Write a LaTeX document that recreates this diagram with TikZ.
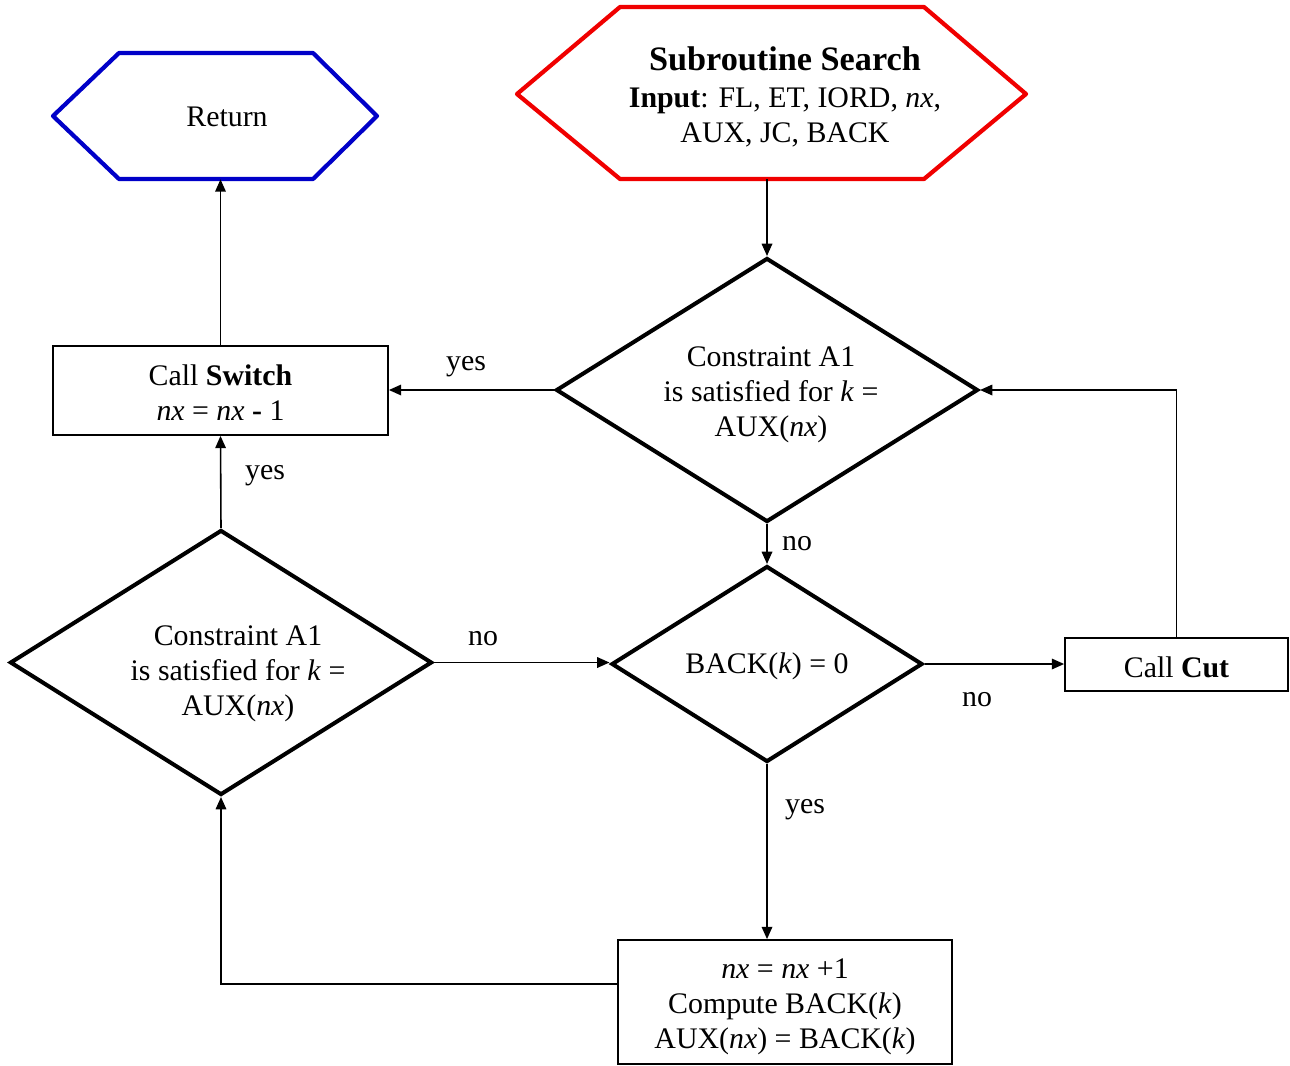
\documentclass[tikz,border=0pt]{standalone}
\usepackage{fontspec}
\setmainfont{Liberation Serif}
\usetikzlibrary{shapes.geometric,arrows.meta}
\def\pu{0.02cm}
\definecolor{hexred}{RGB}{240,0,0}
\definecolor{hexblue}{RGB}{0,0,200}
\begin{document}
\begin{tikzpicture}[x=0.02cm,y=-0.02cm,
  every node/.style={font=\fontsize{17}{20}\selectfont},
  dia/.style={diamond,draw,line width=2.3pt,inner sep=0pt},
  box/.style={rectangle,draw,line width=1pt,inner sep=0pt},
  hexline/.style={line width=2.4pt,line join=round},
  conn/.style={line width=0.9pt,-{Triangle[length=7pt,width=6pt]}},
  lbl/.style={inner sep=0pt}
]
\useasboundingbox (0,0) rectangle (1290,1065);

% hexagons
\draw[hexline,hexblue] (53,116)--(119,53)--(313,53)--(377,116)--(313,179)--(119,179)--cycle;
\node[inner sep=0pt,minimum width={324*\pu},minimum height={126*\pu}] (ret) at (215,116) {};
\node[lbl] (rett) at (227,117) {Return};

\draw[hexline,hexred] (517,94)--(620,7)--(924,7)--(1026,94)--(924,179)--(620,179)--cycle;
\node[inner sep=0pt,minimum width={509*\pu},minimum height={172*\pu}] (srch) at (771.5,93) {};
\node[lbl,align=center] (srcht) at (785,97) {{\fontsize{19.5}{22}\selectfont\bfseries Subroutine Search}\\[1pt]\textbf{Input}: FL, ET, IORD, \textit{nx},\\AUX, JC, BACK};

% diamonds
\node[dia,minimum width={422*\pu},minimum height={264*\pu}] (d1) at (767,390) {};
\node[lbl,align=center] (d1t) at (771,395) {Constraint A1\\is satisfied for \textit{k} =\\AUX(\textit{nx})};

\node[dia,minimum width={422*\pu},minimum height={265*\pu}] (d2) at (221,662.5) {};
\node[lbl,align=center] (d2t) at (238,674) {Constraint A1\\is satisfied for \textit{k} =\\AUX(\textit{nx})};

\node[dia,minimum width={311*\pu},minimum height={196*\pu}] (d3) at (767,664) {};
\node[lbl] (d3t) at (767,666) {BACK(\textit{k}) = 0};

% boxes
\node[box,minimum width={335*\pu},minimum height={89*\pu}] (sw) at (220.5,390.5) {};
\node[lbl,align=center] (swt) at (220.5,393) {Call \textbf{Switch}\\\textit{nx} = \textit{nx} \textbf{-} 1};
\node[box,minimum width={223*\pu},minimum height={53*\pu}] (cut) at (1176.5,664.5) {};
\node[lbl] (cutt) at (1176.5,667) {Call \textbf{Cut}};
\node[box,minimum width={334*\pu},minimum height={124*\pu}] (bot) at (785,1002) {};
\node[lbl,align=center] (bott) at (785,1007) {\textit{nx} = \textit{nx} +1\\Compute BACK(\textit{k})\\AUX(\textit{nx}) = BACK(\textit{k})};
\coordinate (bl) at (bot.west |- 0,984);

% connectors
\draw[conn] (d1.north |- srch.south) -- (d1.north);
\draw[conn] (d1.west) -- (d1.west -| sw.east);
\draw[conn] (d1.south) -- (d3.north);
\draw[conn] (d2.north) -- (sw.south);
\draw[conn] (sw.north) -- (sw.north |- ret.south);
\draw[conn] (d2.east) -- (d2.east -| d3.west);
\draw[conn] (d3.east) -- (d3.east -| cut.west);
\draw[conn] (cut.north) |- (d1.east);
\draw[conn] (d3.south) -- (d3.south |- bot.north);
\draw[conn] (bl) -| (d2.south);

% labels
\node[lbl] (l1) at (466,367) {yes};
\node[lbl] (l2) at (797,544) {no};
\node[lbl] (l3) at (265,476) {yes};
\node[lbl] (l4) at (483,639) {no};
\node[lbl] (l5) at (977,700) {no};
\node[lbl] (l6) at (805,810) {yes};
\end{tikzpicture}
\end{document}
